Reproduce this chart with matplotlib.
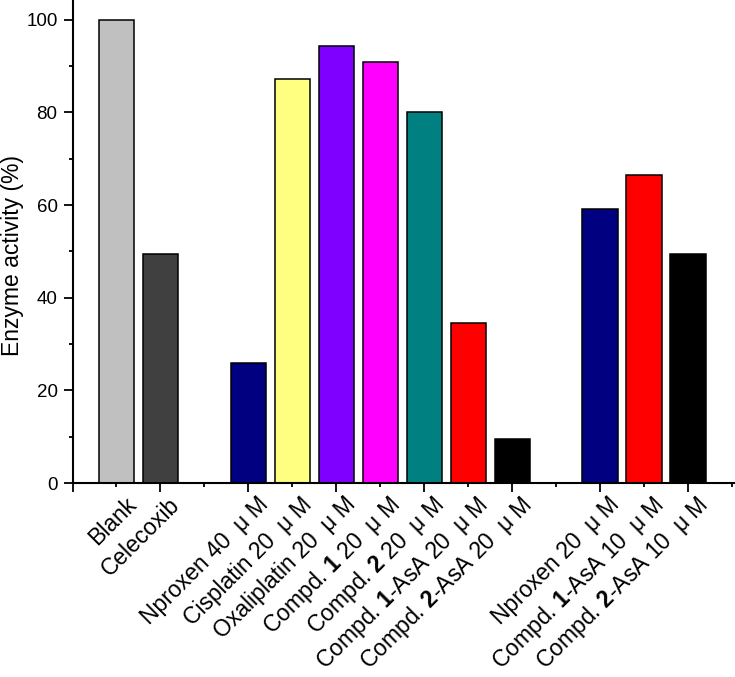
import matplotlib
matplotlib.use("Agg")
import matplotlib.pyplot as plt
from matplotlib.ticker import MultipleLocator

plt.rcParams['font.family'] = ['Liberation Sans', 'DejaVu Sans']
plt.rcParams['mathtext.fontset'] = 'custom'
plt.rcParams['mathtext.rm'] = 'Liberation Sans'
plt.rcParams['mathtext.bf'] = 'Liberation Sans:bold'

positions = [1, 2, 4, 5, 6, 7, 8, 9, 10, 12, 13, 14]
labels = [
    "Blank",
    "Celecoxib",
    "Nproxen 40  \u03bc M",
    "Cisplatin 20  \u03bc M",
    "Oxaliplatin 20  \u03bc M",
    "Compd. $\\mathbf{1}$ 20  \u03bc M",
    "Compd. $\\mathbf{2}$ 20  \u03bc M",
    "Compd. $\\mathbf{1}$-AsA 20  \u03bc M",
    "Compd. $\\mathbf{2}$-AsA 20  \u03bc M",
    "Nproxen 20  \u03bc M",
    "Compd. $\\mathbf{1}$-AsA 10  \u03bc M",
    "Compd. $\\mathbf{2}$-AsA 10  \u03bc M",
]
values = [100.0, 49.5, 26.0, 87.3, 94.4, 90.9, 80.0, 34.5, 9.6, 59.1, 66.4, 49.5]
colors = ["#C0C0C0", "#404040", "#000080", "#FFFF80", "#8000FF", "#FF00FF",
          "#008080", "#FF0000", "#000000", "#000080", "#FF0000", "#000000"]

fig = plt.figure(figsize=(7.35, 6.77), dpi=100)
ax = fig.add_axes([72.5/735, 1 - 483/677, (735-72.5)/735, 483/677])

ax.bar(positions, values, width=0.8, color=colors, edgecolor="black", linewidth=1.1)

ax.set_xlim(0, 15.07)
ax.set_ylim(0, 104.25)
ax.spines['top'].set_visible(False)
ax.spines['right'].set_visible(False)
ax.spines['left'].set_linewidth(1.5)
ax.spines['bottom'].set_linewidth(1.5)

ax.yaxis.set_major_locator(MultipleLocator(20))
ax.yaxis.set_minor_locator(MultipleLocator(10))
ax.xaxis.set_major_locator(MultipleLocator(2))
ax.xaxis.set_minor_locator(MultipleLocator(1))
ax.tick_params(axis='both', which='major', direction='out', length=6.5, width=1.3,
               labelsize=13.5, pad=4.3)
ax.tick_params(axis='both', which='minor', direction='out', length=3, width=1.3)
ax.tick_params(axis='x', which='major', labelbottom=False)

for p, lab in zip(positions, labels):
    ax.text(p + 0.47, -4.9, lab, rotation=45, ha='right', va='baseline',
            rotation_mode='anchor', fontsize=16.5, transform=ax.transData)

ax.set_ylabel("Enzyme activity (%)", fontsize=16.5)
ax.yaxis.set_label_coords(-0.0736, 0.472)

fig.savefig("out.png", dpi=100)
